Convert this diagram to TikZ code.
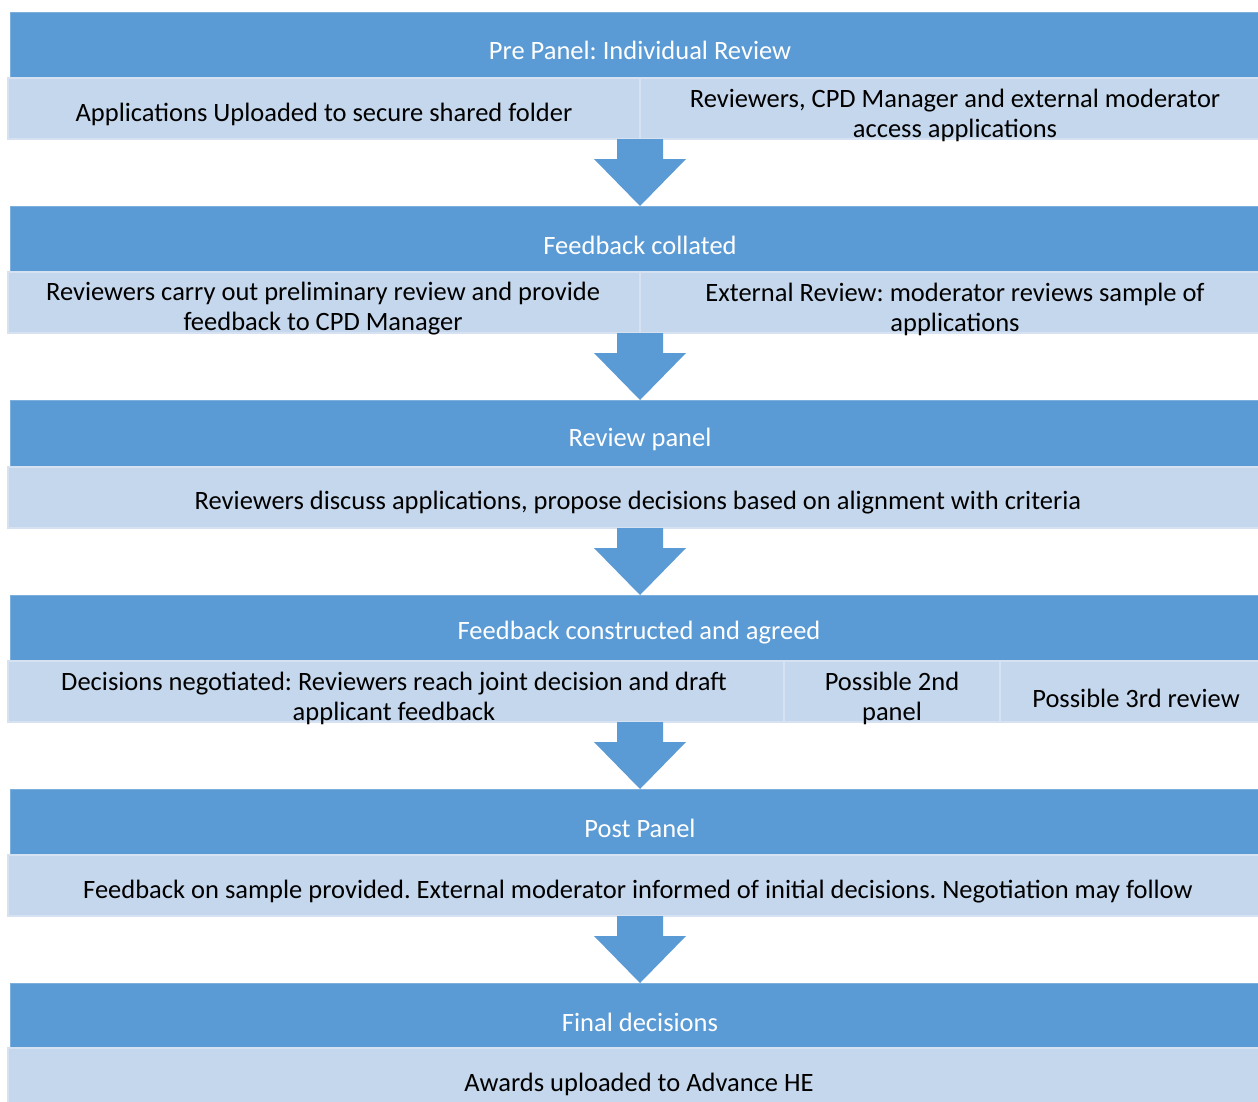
\documentclass[tikz,border=0pt]{standalone}
\usepackage{fontspec}
\setmainfont{Carlito}
\frenchspacing
\definecolor{hdrblue}{HTML}{5B9BD5}
\definecolor{hdrline}{HTML}{7DAFDD}
\definecolor{subblue}{HTML}{C5D7EC}
\definecolor{subline}{HTML}{D6E2F1}
\begin{document}
\begin{tikzpicture}[x=1pt,y=-1pt,
  hdrbox/.style={fill=hdrblue,draw=hdrline,line width=1pt},
  subbox/.style={fill=subblue,draw=subline,line width=1.5pt},
  hdrtxt/.style={text=white,font=\fontsize{26.5}{30}\selectfont,inner sep=0pt},
  subtxt/.style={text=black,font=\fontsize{26.5}{30}\selectfont,align=center,inner sep=0pt},
  blockarrow/.style={fill=hdrblue,draw=none}]
\useasboundingbox (0,0) rectangle (1258,1101);
\fill[white] (0,0) rectangle (1258,1101);
\begin{scope}
\clip (0,0) rectangle (1258,1101);
% Row 1
\path[hdrbox] (10,12) rectangle (1260,78);
\path[subbox] (8,78) rectangle (640,139);
\path[subbox] (640,78) rectangle (1262,139);
% Row 2
\path[hdrbox] (10,206) rectangle (1260,272);
\path[subbox] (8,272) rectangle (640,333);
\path[subbox] (640,272) rectangle (1262,333);
% Row 3
\path[hdrbox] (10,400) rectangle (1260,467);
\path[subbox] (8,467) rectangle (1262,528);
% Row 4
\path[hdrbox] (10,595) rectangle (1260,661);
\path[subbox] (8,661) rectangle (784,722);
\path[subbox] (784,661) rectangle (1000,722);
\path[subbox] (1000,661) rectangle (1262,722);
% Row 5
\path[hdrbox] (10,789) rectangle (1260,855);
\path[subbox] (8,855) rectangle (1262,916);
% Row 6
\path[hdrbox] (10,983) rectangle (1260,1048);
\path[subbox] (8,1048) rectangle (1262,1110);
\end{scope}
% Block arrows
\foreach \yb/\yt in {139/206,333/400,528/595,722/789,916/983}{
  \path[blockarrow] (617,\yb) -- (663,\yb) -- (663,\yb+20) -- (686,\yb+20)
     -- (640,\yt) -- (594,\yb+20) -- (617,\yb+20) -- cycle;
}
% Texts
\node[hdrtxt] (t1) at (640,50) {Pre Panel: Individual Review};
\node[subtxt] (s1a) at (324,114) {Applications Uploaded to secure shared folder};
\node[subtxt] (s1b) at (955,115) {Reviewers, CPD Manager and external moderator\\access applications};
\node[hdrtxt] (t2) at (640,245) {Feedback collated};
\node[subtxt] (s2a) at (323,309) {Reviewers carry out preliminary review and provide\\feedback to CPD Manager};
\node[subtxt] (s2b) at (955,309) {External Review: moderator reviews sample of\\applications};
\node[hdrtxt] (t3) at (640,439) {Review panel};
\node[subtxt] (s3) at (638,503) {Reviewers discuss applications, propose decisions based on alignment with criteria};
\node[hdrtxt] (t4) at (639,633) {Feedback constructed and agreed};
\node[subtxt] (s4a) at (394,698) {Decisions negotiated: Reviewers reach joint decision and draft\\applicant feedback};
\node[subtxt] (s4b) at (892,698) {Possible 2nd\\panel};
\node[subtxt] (s4c) at (1136,698) {Possible 3rd review};
\node[hdrtxt] (t5) at (640,828) {Post Panel};
\node[subtxt] (s5) at (638,892) {Feedback on sample provided. External moderator informed of initial decisions. Negotiation may follow};
\node[hdrtxt] (t6) at (640,1022) {Final decisions};
\node[subtxt] (s6) at (639,1084) {Awards uploaded to Advance HE};
\end{tikzpicture}
\end{document}
